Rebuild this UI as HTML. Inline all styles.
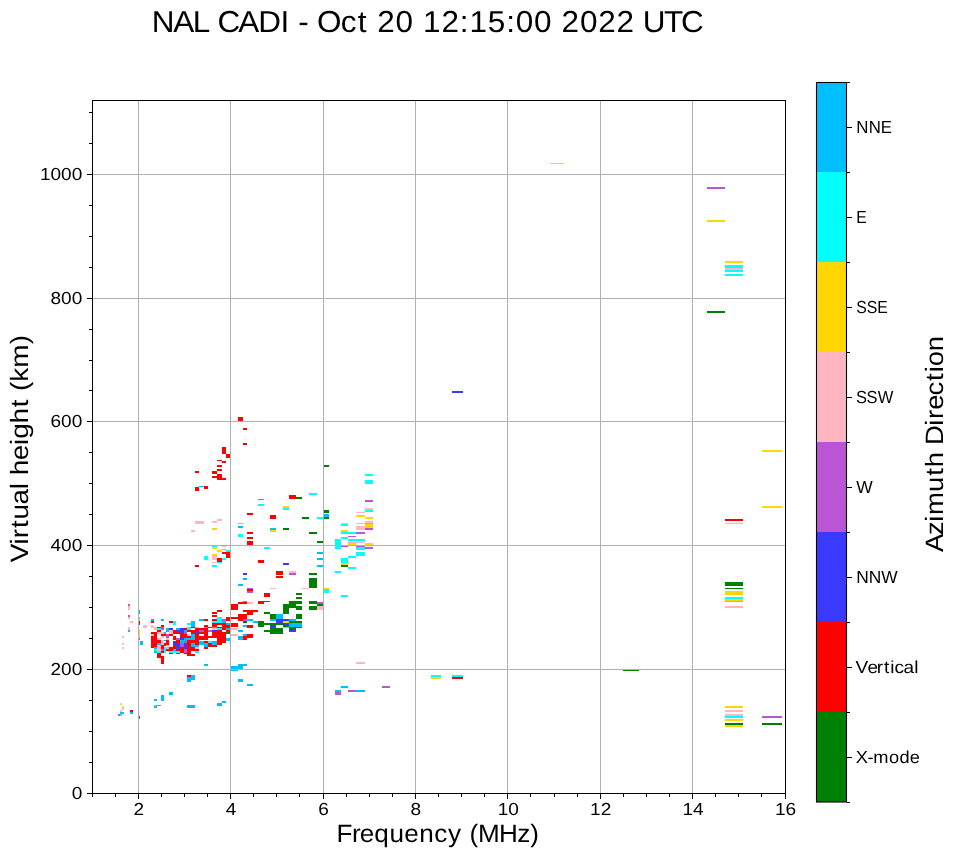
<!DOCTYPE html>
<html><head><meta charset="utf-8"><style>html,body{margin:0;padding:0;background:#fff;width:958px;height:857px;overflow:hidden}svg{display:block;will-change:transform;text-rendering:geometricPrecision}text{font-family:"Liberation Sans",sans-serif;fill:#000}</style></head>
<body>
<svg width="958" height="857" viewBox="0 0 958 857">
<rect x="0" y="0" width="958" height="857" fill="#fff"/>
<g shape-rendering="crispEdges">
<rect x="707" y="187" width="18" height="2" fill="#ba55d3"/>
<rect x="707" y="220" width="18" height="2" fill="#ffd700"/>
<rect x="707" y="311" width="18" height="2" fill="#008000"/>
<rect x="725" y="261" width="18" height="2" fill="#ffd700"/>
<rect x="725" y="265" width="18" height="3" fill="#00ffff"/>
<rect x="725" y="268" width="18" height="2" fill="#ffb6c1"/>
<rect x="725" y="270" width="18" height="2" fill="#00ffff"/>
<rect x="725" y="274" width="18" height="2" fill="#00ffff"/>
<rect x="762" y="450" width="20" height="2" fill="#ffd700"/>
<rect x="762" y="506" width="20" height="2" fill="#ffd700"/>
<rect x="725" y="519" width="18" height="2" fill="#ff0000"/>
<rect x="725" y="523" width="18" height="1" fill="#ffd700"/>
<rect x="725" y="582" width="18" height="4" fill="#008000"/>
<rect x="725" y="588" width="18" height="1" fill="#008000"/>
<rect x="725" y="591" width="18" height="4" fill="#ffd700"/>
<rect x="725" y="597" width="18" height="2" fill="#00ffff"/>
<rect x="725" y="599" width="18" height="2" fill="#ffd700"/>
<rect x="725" y="601" width="18" height="1" fill="#00ffff"/>
<rect x="725" y="606" width="18" height="2" fill="#ffb6c1"/>
<rect x="725" y="706" width="18" height="2" fill="#ffd700"/>
<rect x="725" y="710" width="18" height="2" fill="#ffb6c1"/>
<rect x="725" y="714" width="18" height="2" fill="#ffb6c1"/>
<rect x="725" y="716" width="18" height="2" fill="#00ffff"/>
<rect x="725" y="719" width="18" height="2" fill="#ffd700"/>
<rect x="725" y="723" width="18" height="2" fill="#008000"/>
<rect x="725" y="725" width="18" height="2" fill="#ffd700"/>
<rect x="762" y="716" width="20" height="2" fill="#ba55d3"/>
<rect x="762" y="723" width="20" height="2" fill="#008000"/>
<rect x="623" y="670" width="16" height="1" fill="#008000"/>
<rect x="431" y="675" width="10" height="2" fill="#00ffff"/>
<rect x="431" y="677" width="10" height="2" fill="#ffd700"/>
<rect x="452" y="675" width="11" height="2" fill="#00ffff"/>
<rect x="452" y="677" width="11" height="2" fill="#ff0000"/>
<rect x="452" y="391" width="11" height="2" fill="#3a3aff"/>
<rect x="550" y="163" width="14" height="1" fill="#ffd700"/>
<rect x="238" y="417" width="5" height="4" fill="#ff0000"/>
<rect x="243" y="428" width="4" height="2" fill="#ff0000"/>
<rect x="243" y="443" width="4" height="2" fill="#ff0000"/>
<rect x="222" y="447" width="4" height="7" fill="#ff0000"/>
<rect x="226" y="454" width="4" height="4" fill="#ff0000"/>
<rect x="217" y="460" width="5" height="1" fill="#ff0000"/>
<rect x="222" y="461" width="4" height="2" fill="#ff0000"/>
<rect x="217" y="465" width="5" height="2" fill="#ff0000"/>
<rect x="217" y="469" width="5" height="2" fill="#ff0000"/>
<rect x="195" y="471" width="4" height="2" fill="#ff0000"/>
<rect x="212" y="471" width="5" height="3" fill="#ff0000"/>
<rect x="217" y="474" width="5" height="6" fill="#ff0000"/>
<rect x="212" y="476" width="5" height="2" fill="#ff0000"/>
<rect x="222" y="478" width="4" height="2" fill="#ff0000"/>
<rect x="199" y="486" width="5" height="1" fill="#00bfff"/>
<rect x="204" y="486" width="4" height="3" fill="#ff0000"/>
<rect x="195" y="487" width="4" height="4" fill="#ff0000"/>
<rect x="258" y="499" width="6" height="1" fill="#00bfff"/>
<rect x="258" y="504" width="6" height="2" fill="#00ffff"/>
<rect x="247" y="513" width="6" height="2" fill="#ff0000"/>
<rect x="270" y="515" width="6" height="4" fill="#ff0000"/>
<rect x="283" y="506" width="6" height="2" fill="#ffd700"/>
<rect x="283" y="508" width="6" height="2" fill="#00ffff"/>
<rect x="289" y="495" width="7" height="4" fill="#ff0000"/>
<rect x="296" y="497" width="6" height="2" fill="#008000"/>
<rect x="309" y="493" width="8" height="2" fill="#00ffff"/>
<rect x="323" y="465" width="6" height="2" fill="#008000"/>
<rect x="323" y="510" width="6" height="3" fill="#008000"/>
<rect x="365" y="474" width="8" height="2" fill="#00ffff"/>
<rect x="365" y="480" width="8" height="4" fill="#00ffff"/>
<rect x="365" y="500" width="8" height="2" fill="#ba55d3"/>
<rect x="365" y="508" width="8" height="2" fill="#ffb6c1"/>
<rect x="365" y="510" width="8" height="2" fill="#00ffff"/>
<rect x="356" y="512" width="9" height="1" fill="#ffb6c1"/>
<rect x="195" y="521" width="9" height="3" fill="#ffb6c1"/>
<rect x="191" y="530" width="4" height="2" fill="#ffb6c1"/>
<rect x="212" y="521" width="5" height="2" fill="#ffb6c1"/>
<rect x="217" y="519" width="5" height="2" fill="#ffb6c1"/>
<rect x="212" y="528" width="5" height="2" fill="#ffd700"/>
<rect x="212" y="545" width="5" height="2" fill="#00ffff"/>
<rect x="212" y="547" width="5" height="2" fill="#ffd700"/>
<rect x="222" y="546" width="4" height="1" fill="#ffb6c1"/>
<rect x="222" y="549" width="4" height="1" fill="#00ffff"/>
<rect x="226" y="550" width="4" height="2" fill="#00ffff"/>
<rect x="217" y="550" width="5" height="2" fill="#ffd700"/>
<rect x="222" y="552" width="4" height="2" fill="#ff0000"/>
<rect x="226" y="552" width="4" height="6" fill="#ff0000"/>
<rect x="212" y="554" width="5" height="2" fill="#ffd700"/>
<rect x="212" y="556" width="5" height="4" fill="#ffb6c1"/>
<rect x="204" y="556" width="4" height="4" fill="#00ffff"/>
<rect x="217" y="558" width="5" height="4" fill="#ff0000"/>
<rect x="222" y="558" width="4" height="2" fill="#00ffff"/>
<rect x="217" y="562" width="5" height="1" fill="#00ffff"/>
<rect x="212" y="562" width="5" height="1" fill="#ffb6c1"/>
<rect x="195" y="565" width="4" height="2" fill="#ff0000"/>
<rect x="212" y="565" width="5" height="2" fill="#00ffff"/>
<rect x="238" y="523" width="5" height="1" fill="#00ffff"/>
<rect x="238" y="526" width="5" height="2" fill="#00bfff"/>
<rect x="238" y="534" width="5" height="3" fill="#00ffff"/>
<rect x="247" y="532" width="6" height="2" fill="#ff0000"/>
<rect x="247" y="537" width="6" height="2" fill="#ff0000"/>
<rect x="247" y="541" width="6" height="4" fill="#ff0000"/>
<rect x="270" y="528" width="6" height="2" fill="#00bfff"/>
<rect x="270" y="530" width="6" height="2" fill="#ffd700"/>
<rect x="283" y="528" width="6" height="2" fill="#008000"/>
<rect x="264" y="547" width="6" height="2" fill="#00ffff"/>
<rect x="258" y="560" width="6" height="3" fill="#ff0000"/>
<rect x="283" y="563" width="6" height="2" fill="#3a3aff"/>
<rect x="302" y="517" width="7" height="2" fill="#008000"/>
<rect x="317" y="517" width="6" height="2" fill="#00ffff"/>
<rect x="323" y="514" width="6" height="3" fill="#00bfff"/>
<rect x="323" y="517" width="6" height="2" fill="#008000"/>
<rect x="309" y="532" width="8" height="2" fill="#008000"/>
<rect x="317" y="541" width="6" height="2" fill="#008000"/>
<rect x="335" y="539" width="6" height="10" fill="#00ffff"/>
<rect x="317" y="552" width="6" height="2" fill="#00bfff"/>
<rect x="317" y="558" width="6" height="2" fill="#00bfff"/>
<rect x="317" y="565" width="6" height="2" fill="#00bfff"/>
<rect x="335" y="571" width="6" height="2" fill="#00ffff"/>
<rect x="289" y="571" width="7" height="2" fill="#ffb6c1"/>
<rect x="356" y="515" width="9" height="2" fill="#ffd700"/>
<rect x="365" y="517" width="8" height="2" fill="#ffd700"/>
<rect x="365" y="521" width="8" height="2" fill="#ffb6c1"/>
<rect x="365" y="523" width="8" height="1" fill="#00ffff"/>
<rect x="365" y="524" width="8" height="4" fill="#ffd700"/>
<rect x="365" y="528" width="8" height="2" fill="#ba55d3"/>
<rect x="356" y="523" width="9" height="1" fill="#ffd700"/>
<rect x="356" y="526" width="9" height="4" fill="#ffb6c1"/>
<rect x="341" y="523" width="7" height="1" fill="#ffb6c1"/>
<rect x="341" y="524" width="7" height="2" fill="#00ffff"/>
<rect x="341" y="530" width="7" height="2" fill="#ffd700"/>
<rect x="341" y="532" width="15" height="2" fill="#00ffff"/>
<rect x="356" y="532" width="9" height="2" fill="#ba55d3"/>
<rect x="348" y="536" width="8" height="1" fill="#ba55d3"/>
<rect x="341" y="537" width="7" height="2" fill="#00ffff"/>
<rect x="348" y="539" width="17" height="2" fill="#00ffff"/>
<rect x="348" y="541" width="17" height="2" fill="#ffb6c1"/>
<rect x="348" y="543" width="8" height="2" fill="#ffd700"/>
<rect x="365" y="543" width="8" height="2" fill="#ffd700"/>
<rect x="341" y="546" width="7" height="1" fill="#ba55d3"/>
<rect x="356" y="546" width="9" height="1" fill="#ba55d3"/>
<rect x="356" y="547" width="9" height="3" fill="#00ffff"/>
<rect x="365" y="547" width="8" height="2" fill="#ba55d3"/>
<rect x="356" y="552" width="9" height="4" fill="#00ffff"/>
<rect x="348" y="556" width="8" height="2" fill="#00ffff"/>
<rect x="341" y="558" width="7" height="5" fill="#00ffff"/>
<rect x="341" y="563" width="7" height="2" fill="#ffd700"/>
<rect x="341" y="565" width="7" height="2" fill="#008000"/>
<rect x="348" y="567" width="8" height="2" fill="#00ffff"/>
<rect x="289" y="573" width="7" height="2" fill="#ba55d3"/>
<rect x="309" y="573" width="8" height="2" fill="#008000"/>
<rect x="309" y="578" width="8" height="10" fill="#008000"/>
<rect x="302" y="588" width="7" height="1" fill="#ffb6c1"/>
<rect x="323" y="588" width="6" height="1" fill="#ffd700"/>
<rect x="323" y="589" width="6" height="4" fill="#00ffff"/>
<rect x="341" y="595" width="7" height="2" fill="#00ffff"/>
<rect x="296" y="593" width="6" height="2" fill="#008000"/>
<rect x="296" y="597" width="6" height="2" fill="#008000"/>
<rect x="289" y="601" width="13" height="3" fill="#008000"/>
<rect x="283" y="604" width="6" height="10" fill="#008000"/>
<rect x="289" y="601" width="7" height="7" fill="#008000"/>
<rect x="296" y="606" width="6" height="4" fill="#008000"/>
<rect x="309" y="601" width="8" height="3" fill="#008000"/>
<rect x="317" y="602" width="6" height="2" fill="#ba55d3"/>
<rect x="317" y="604" width="6" height="2" fill="#008000"/>
<rect x="309" y="606" width="8" height="4" fill="#008000"/>
<rect x="317" y="606" width="6" height="4" fill="#ffb6c1"/>
<rect x="296" y="614" width="6" height="5" fill="#008000"/>
<rect x="283" y="619" width="6" height="2" fill="#3a3aff"/>
<rect x="289" y="619" width="7" height="2" fill="#00bfff"/>
<rect x="283" y="621" width="6" height="2" fill="#ffd700"/>
<rect x="289" y="621" width="13" height="2" fill="#008000"/>
<rect x="243" y="573" width="4" height="2" fill="#3a3aff"/>
<rect x="243" y="578" width="4" height="2" fill="#00bfff"/>
<rect x="238" y="584" width="5" height="2" fill="#00bfff"/>
<rect x="276" y="571" width="7" height="4" fill="#ff0000"/>
<rect x="276" y="576" width="7" height="2" fill="#ff0000"/>
<rect x="247" y="588" width="6" height="1" fill="#ba55d3"/>
<rect x="247" y="589" width="6" height="2" fill="#ff0000"/>
<rect x="247" y="591" width="6" height="2" fill="#ba55d3"/>
<rect x="270" y="588" width="6" height="1" fill="#ffb6c1"/>
<rect x="264" y="593" width="6" height="4" fill="#ff0000"/>
<rect x="243" y="601" width="4" height="1" fill="#00bfff"/>
<rect x="238" y="602" width="9" height="2" fill="#ff0000"/>
<rect x="247" y="602" width="6" height="2" fill="#ffb6c1"/>
<rect x="258" y="601" width="6" height="3" fill="#ff0000"/>
<rect x="264" y="601" width="6" height="1" fill="#ff0000"/>
<rect x="243" y="610" width="15" height="2" fill="#ff0000"/>
<rect x="247" y="612" width="6" height="3" fill="#ff0000"/>
<rect x="264" y="612" width="6" height="2" fill="#008000"/>
<rect x="238" y="614" width="9" height="7" fill="#ff0000"/>
<rect x="243" y="619" width="4" height="2" fill="#ba55d3"/>
<rect x="247" y="619" width="6" height="2" fill="#00bfff"/>
<rect x="243" y="621" width="4" height="2" fill="#008000"/>
<rect x="253" y="621" width="5" height="2" fill="#00bfff"/>
<rect x="270" y="614" width="6" height="5" fill="#008000"/>
<rect x="276" y="614" width="7" height="5" fill="#00bfff"/>
<rect x="270" y="619" width="6" height="2" fill="#00bfff"/>
<rect x="276" y="619" width="7" height="4" fill="#3a3aff"/>
<rect x="258" y="621" width="6" height="6" fill="#008000"/>
<rect x="264" y="623" width="19" height="2" fill="#008000"/>
<rect x="283" y="623" width="6" height="2" fill="#3a3aff"/>
<rect x="283" y="625" width="6" height="2" fill="#008000"/>
<rect x="283" y="627" width="6" height="1" fill="#00ffff"/>
<rect x="289" y="623" width="13" height="4" fill="#00bfff"/>
<rect x="289" y="627" width="13" height="1" fill="#008000"/>
<rect x="289" y="628" width="7" height="2" fill="#008000"/>
<rect x="289" y="630" width="7" height="2" fill="#3a3aff"/>
<rect x="270" y="625" width="6" height="3" fill="#3a3aff"/>
<rect x="270" y="628" width="13" height="6" fill="#008000"/>
<rect x="264" y="630" width="6" height="2" fill="#008000"/>
<rect x="243" y="625" width="4" height="2" fill="#00bfff"/>
<rect x="247" y="625" width="6" height="3" fill="#ff0000"/>
<rect x="238" y="630" width="5" height="2" fill="#00bfff"/>
<rect x="243" y="634" width="4" height="2" fill="#00bfff"/>
<rect x="247" y="634" width="6" height="4" fill="#ff0000"/>
<rect x="243" y="636" width="4" height="4" fill="#ff0000"/>
<rect x="238" y="636" width="5" height="4" fill="#00bfff"/>
<rect x="238" y="664" width="9" height="2" fill="#00bfff"/>
<rect x="238" y="666" width="5" height="3" fill="#00bfff"/>
<rect x="230" y="604" width="8" height="6" fill="#ff0000"/>
<rect x="212" y="612" width="5" height="2" fill="#ff0000"/>
<rect x="217" y="610" width="5" height="2" fill="#ff0000"/>
<rect x="212" y="615" width="5" height="2" fill="#ff0000"/>
<rect x="230" y="617" width="8" height="2" fill="#ff0000"/>
<rect x="217" y="617" width="5" height="6" fill="#00ffff"/>
<rect x="212" y="621" width="5" height="2" fill="#00ffff"/>
<rect x="222" y="621" width="4" height="2" fill="#00bfff"/>
<rect x="226" y="617" width="4" height="4" fill="#ff0000"/>
<rect x="222" y="619" width="4" height="2" fill="#ba55d3"/>
<rect x="199" y="619" width="5" height="2" fill="#00bfff"/>
<rect x="204" y="619" width="4" height="2" fill="#ff0000"/>
<rect x="212" y="619" width="5" height="2" fill="#ff0000"/>
<rect x="226" y="623" width="4" height="2" fill="#00bfff"/>
<rect x="230" y="623" width="8" height="4" fill="#ff0000"/>
<rect x="212" y="623" width="14" height="2" fill="#ff0000"/>
<rect x="212" y="625" width="5" height="2" fill="#ff0000"/>
<rect x="222" y="625" width="4" height="2" fill="#ff0000"/>
<rect x="204" y="625" width="4" height="2" fill="#ff0000"/>
<rect x="226" y="625" width="4" height="3" fill="#ff0000"/>
<rect x="204" y="627" width="4" height="1" fill="#00bfff"/>
<rect x="208" y="627" width="4" height="1" fill="#3a3aff"/>
<rect x="212" y="627" width="5" height="1" fill="#00bfff"/>
<rect x="217" y="627" width="5" height="1" fill="#ff0000"/>
<rect x="222" y="627" width="4" height="1" fill="#3a3aff"/>
<rect x="195" y="627" width="4" height="1" fill="#ffb6c1"/>
<rect x="195" y="628" width="13" height="2" fill="#ff0000"/>
<rect x="212" y="628" width="5" height="2" fill="#ffb6c1"/>
<rect x="217" y="628" width="5" height="2" fill="#00ffff"/>
<rect x="222" y="628" width="4" height="2" fill="#ff0000"/>
<rect x="226" y="628" width="4" height="2" fill="#00bfff"/>
<rect x="230" y="628" width="8" height="2" fill="#ffb6c1"/>
<rect x="195" y="630" width="4" height="2" fill="#ff0000"/>
<rect x="199" y="630" width="5" height="2" fill="#ba55d3"/>
<rect x="204" y="630" width="4" height="2" fill="#ff0000"/>
<rect x="208" y="630" width="4" height="2" fill="#ba55d3"/>
<rect x="212" y="630" width="5" height="2" fill="#3a3aff"/>
<rect x="217" y="630" width="5" height="2" fill="#ff0000"/>
<rect x="226" y="630" width="4" height="2" fill="#ff0000"/>
<rect x="195" y="632" width="4" height="2" fill="#3a3aff"/>
<rect x="199" y="632" width="9" height="2" fill="#ff0000"/>
<rect x="212" y="632" width="14" height="2" fill="#ff0000"/>
<rect x="226" y="632" width="4" height="2" fill="#008000"/>
<rect x="195" y="634" width="4" height="2" fill="#ff0000"/>
<rect x="204" y="634" width="4" height="2" fill="#ff0000"/>
<rect x="212" y="634" width="14" height="2" fill="#ff0000"/>
<rect x="230" y="634" width="8" height="2" fill="#ffb6c1"/>
<rect x="195" y="636" width="31" height="2" fill="#ff0000"/>
<rect x="195" y="638" width="13" height="2" fill="#ff0000"/>
<rect x="217" y="638" width="9" height="2" fill="#ff0000"/>
<rect x="226" y="638" width="4" height="3" fill="#00bfff"/>
<rect x="195" y="640" width="4" height="3" fill="#ff0000"/>
<rect x="199" y="641" width="5" height="4" fill="#00bfff"/>
<rect x="204" y="641" width="4" height="2" fill="#ff0000"/>
<rect x="208" y="641" width="4" height="2" fill="#00ffff"/>
<rect x="212" y="641" width="5" height="4" fill="#00bfff"/>
<rect x="217" y="640" width="5" height="5" fill="#ff0000"/>
<rect x="222" y="640" width="4" height="3" fill="#ff0000"/>
<rect x="195" y="643" width="4" height="2" fill="#ff0000"/>
<rect x="204" y="643" width="4" height="4" fill="#00bfff"/>
<rect x="208" y="643" width="4" height="4" fill="#ff0000"/>
<rect x="212" y="645" width="5" height="2" fill="#ff0000"/>
<rect x="195" y="645" width="4" height="2" fill="#00bfff"/>
<rect x="195" y="647" width="4" height="2" fill="#ffb6c1"/>
<rect x="204" y="647" width="4" height="2" fill="#ff0000"/>
<rect x="195" y="649" width="4" height="2" fill="#ff0000"/>
<rect x="195" y="651" width="4" height="2" fill="#00ffff"/>
<rect x="151" y="619" width="3" height="2" fill="#00bfff"/>
<rect x="161" y="619" width="3" height="2" fill="#00bfff"/>
<rect x="151" y="621" width="3" height="2" fill="#ff0000"/>
<rect x="169" y="621" width="4" height="2" fill="#ff0000"/>
<rect x="173" y="621" width="3" height="4" fill="#00ffff"/>
<rect x="191" y="621" width="4" height="6" fill="#00bfff"/>
<rect x="187" y="623" width="4" height="2" fill="#00ffff"/>
<rect x="145" y="625" width="2" height="3" fill="#ffb6c1"/>
<rect x="151" y="625" width="3" height="3" fill="#ffb6c1"/>
<rect x="161" y="625" width="3" height="2" fill="#ff0000"/>
<rect x="154" y="627" width="3" height="3" fill="#ffb6c1"/>
<rect x="157" y="627" width="4" height="1" fill="#ff0000"/>
<rect x="161" y="627" width="3" height="1" fill="#00bfff"/>
<rect x="157" y="628" width="4" height="2" fill="#00ffff"/>
<rect x="161" y="628" width="3" height="2" fill="#ba55d3"/>
<rect x="166" y="628" width="3" height="4" fill="#00bfff"/>
<rect x="169" y="628" width="4" height="2" fill="#3a3aff"/>
<rect x="176" y="628" width="4" height="2" fill="#00bfff"/>
<rect x="180" y="628" width="4" height="6" fill="#3a3aff"/>
<rect x="184" y="628" width="3" height="2" fill="#ff0000"/>
<rect x="187" y="627" width="4" height="3" fill="#00ffff"/>
<rect x="191" y="627" width="4" height="1" fill="#ff0000"/>
<rect x="157" y="630" width="4" height="2" fill="#ff0000"/>
<rect x="169" y="630" width="4" height="4" fill="#ffb6c1"/>
<rect x="173" y="630" width="3" height="4" fill="#ff0000"/>
<rect x="176" y="630" width="4" height="2" fill="#3a3aff"/>
<rect x="184" y="630" width="3" height="2" fill="#00bfff"/>
<rect x="187" y="630" width="8" height="2" fill="#ff0000"/>
<rect x="191" y="632" width="4" height="2" fill="#ff0000"/>
<rect x="151" y="632" width="6" height="4" fill="#ff0000"/>
<rect x="157" y="632" width="7" height="2" fill="#ffb6c1"/>
<rect x="164" y="632" width="2" height="2" fill="#00bfff"/>
<rect x="176" y="632" width="4" height="2" fill="#ff0000"/>
<rect x="184" y="632" width="3" height="2" fill="#ba55d3"/>
<rect x="151" y="634" width="3" height="2" fill="#ffb6c1"/>
<rect x="154" y="634" width="3" height="4" fill="#ff0000"/>
<rect x="161" y="634" width="5" height="2" fill="#ff0000"/>
<rect x="166" y="634" width="3" height="4" fill="#ba55d3"/>
<rect x="169" y="634" width="4" height="2" fill="#ff0000"/>
<rect x="180" y="634" width="7" height="4" fill="#ff0000"/>
<rect x="187" y="634" width="4" height="2" fill="#ffb6c1"/>
<rect x="191" y="634" width="4" height="6" fill="#00bfff"/>
<rect x="151" y="636" width="6" height="12" fill="#ff0000"/>
<rect x="161" y="636" width="3" height="2" fill="#ffb6c1"/>
<rect x="173" y="636" width="3" height="4" fill="#ff0000"/>
<rect x="187" y="636" width="4" height="2" fill="#ff0000"/>
<rect x="157" y="638" width="4" height="2" fill="#ffb6c1"/>
<rect x="166" y="638" width="3" height="2" fill="#ffb6c1"/>
<rect x="176" y="638" width="4" height="2" fill="#ba55d3"/>
<rect x="180" y="638" width="4" height="2" fill="#3a3aff"/>
<rect x="184" y="638" width="3" height="3" fill="#00bfff"/>
<rect x="187" y="638" width="4" height="2" fill="#00bfff"/>
<rect x="157" y="640" width="4" height="3" fill="#ff0000"/>
<rect x="161" y="640" width="3" height="5" fill="#ffb6c1"/>
<rect x="164" y="640" width="2" height="1" fill="#00bfff"/>
<rect x="166" y="640" width="3" height="5" fill="#ff0000"/>
<rect x="173" y="641" width="3" height="4" fill="#3a3aff"/>
<rect x="176" y="640" width="4" height="3" fill="#ff0000"/>
<rect x="180" y="640" width="4" height="3" fill="#00bfff"/>
<rect x="184" y="641" width="3" height="2" fill="#ba55d3"/>
<rect x="187" y="640" width="8" height="3" fill="#ff0000"/>
<rect x="191" y="643" width="4" height="4" fill="#00bfff"/>
<rect x="157" y="643" width="4" height="2" fill="#00bfff"/>
<rect x="164" y="643" width="2" height="3" fill="#ff0000"/>
<rect x="176" y="643" width="4" height="6" fill="#3a3aff"/>
<rect x="180" y="643" width="4" height="4" fill="#ba55d3"/>
<rect x="184" y="643" width="3" height="6" fill="#3a3aff"/>
<rect x="187" y="643" width="4" height="12" fill="#ff0000"/>
<rect x="157" y="645" width="4" height="6" fill="#ffb6c1"/>
<rect x="161" y="645" width="3" height="4" fill="#ff0000"/>
<rect x="166" y="645" width="3" height="4" fill="#ffb6c1"/>
<rect x="173" y="645" width="3" height="4" fill="#ff0000"/>
<rect x="169" y="647" width="4" height="4" fill="#ff0000"/>
<rect x="154" y="647" width="3" height="2" fill="#00bfff"/>
<rect x="164" y="647" width="2" height="6" fill="#00ffff"/>
<rect x="180" y="647" width="4" height="6" fill="#ff0000"/>
<rect x="154" y="649" width="3" height="2" fill="#00ffff"/>
<rect x="161" y="649" width="3" height="2" fill="#ba55d3"/>
<rect x="166" y="649" width="7" height="2" fill="#ff0000"/>
<rect x="173" y="649" width="3" height="2" fill="#00bfff"/>
<rect x="176" y="649" width="4" height="2" fill="#ff0000"/>
<rect x="184" y="649" width="3" height="4" fill="#ba55d3"/>
<rect x="191" y="647" width="4" height="4" fill="#ff0000"/>
<rect x="154" y="651" width="3" height="2" fill="#00bfff"/>
<rect x="157" y="651" width="4" height="2" fill="#00ffff"/>
<rect x="161" y="651" width="3" height="2" fill="#ff0000"/>
<rect x="169" y="651" width="11" height="2" fill="#00ffff"/>
<rect x="157" y="653" width="4" height="2" fill="#ff0000"/>
<rect x="169" y="653" width="4" height="1" fill="#ff0000"/>
<rect x="176" y="653" width="4" height="1" fill="#ff0000"/>
<rect x="184" y="653" width="3" height="1" fill="#ff0000"/>
<rect x="187" y="653" width="4" height="1" fill="#3a3aff"/>
<rect x="187" y="654" width="8" height="1" fill="#ff0000"/>
<rect x="128" y="604" width="2" height="2" fill="#ba55d3"/>
<rect x="128" y="606" width="2" height="4" fill="#ffb6c1"/>
<rect x="128" y="615" width="2" height="2" fill="#ba55d3"/>
<rect x="128" y="617" width="2" height="2" fill="#ffb6c1"/>
<rect x="130" y="621" width="3" height="2" fill="#ffb6c1"/>
<rect x="139" y="610" width="1" height="4" fill="#00bfff"/>
<rect x="139" y="617" width="1" height="2" fill="#00ffff"/>
<rect x="139" y="619" width="1" height="2" fill="#ffd700"/>
<rect x="139" y="621" width="1" height="2" fill="#ff0000"/>
<rect x="139" y="623" width="1" height="2" fill="#3a3aff"/>
<rect x="143" y="625" width="4" height="3" fill="#ffb6c1"/>
<rect x="128" y="627" width="2" height="3" fill="#ffb6c1"/>
<rect x="128" y="630" width="2" height="2" fill="#00bfff"/>
<rect x="122" y="636" width="2" height="2" fill="#ffb6c1"/>
<rect x="122" y="643" width="2" height="2" fill="#ffb6c1"/>
<rect x="122" y="647" width="2" height="2" fill="#ffb6c1"/>
<rect x="139" y="630" width="1" height="6" fill="#ffd700"/>
<rect x="139" y="636" width="1" height="2" fill="#ffb6c1"/>
<rect x="139" y="638" width="1" height="2" fill="#ba55d3"/>
<rect x="140" y="641" width="3" height="4" fill="#00bfff"/>
<rect x="157" y="653" width="4" height="5" fill="#ff0000"/>
<rect x="161" y="656" width="3" height="8" fill="#ff0000"/>
<rect x="187" y="654" width="8" height="2" fill="#ff0000"/>
<rect x="187" y="675" width="4" height="2" fill="#ff0000"/>
<rect x="187" y="677" width="4" height="5" fill="#00bfff"/>
<rect x="191" y="675" width="4" height="5" fill="#00bfff"/>
<rect x="169" y="692" width="4" height="3" fill="#00bfff"/>
<rect x="120" y="703" width="2" height="2" fill="#ffb6c1"/>
<rect x="122" y="706" width="2" height="2" fill="#ffd700"/>
<rect x="122" y="708" width="2" height="2" fill="#ffb6c1"/>
<rect x="120" y="710" width="2" height="2" fill="#ffb6c1"/>
<rect x="120" y="712" width="4" height="2" fill="#00bfff"/>
<rect x="120" y="714" width="2" height="2" fill="#00ffff"/>
<rect x="130" y="710" width="3" height="2" fill="#ff0000"/>
<rect x="130" y="712" width="3" height="2" fill="#00bfff"/>
<rect x="139" y="716" width="1" height="2" fill="#ff0000"/>
<rect x="139" y="718" width="1" height="1" fill="#00bfff"/>
<rect x="154" y="699" width="3" height="2" fill="#00bfff"/>
<rect x="161" y="695" width="3" height="6" fill="#00bfff"/>
<rect x="154" y="705" width="3" height="1" fill="#00ffff"/>
<rect x="154" y="706" width="3" height="2" fill="#00bfff"/>
<rect x="157" y="705" width="4" height="1" fill="#00bfff"/>
<rect x="118" y="714" width="2" height="2" fill="#ba55d3"/>
<rect x="204" y="664" width="4" height="2" fill="#00bfff"/>
<rect x="231" y="666" width="12" height="3" fill="#00bfff"/>
<rect x="231" y="670" width="7" height="1" fill="#00bfff"/>
<rect x="238" y="679" width="5" height="3" fill="#00bfff"/>
<rect x="247" y="684" width="6" height="2" fill="#00bfff"/>
<rect x="222" y="701" width="4" height="2" fill="#00bfff"/>
<rect x="217" y="703" width="5" height="3" fill="#00bfff"/>
<rect x="187" y="705" width="8" height="3" fill="#00bfff"/>
<rect x="356" y="662" width="9" height="2" fill="#ffb6c1"/>
<rect x="341" y="686" width="7" height="2" fill="#00bfff"/>
<rect x="335" y="690" width="6" height="2" fill="#00bfff"/>
<rect x="335" y="692" width="6" height="3" fill="#ba55d3"/>
<rect x="348" y="690" width="8" height="2" fill="#ba55d3"/>
<rect x="356" y="690" width="9" height="2" fill="#00bfff"/>
<rect x="382" y="686" width="8" height="2" fill="#ba55d3"/>
</g>
<g fill="#b0b0b0" shape-rendering="crispEdges">
<rect x="138" y="100" width="1" height="693"/>
<rect x="230" y="100" width="1" height="693"/>
<rect x="323" y="100" width="1" height="693"/>
<rect x="415" y="100" width="1" height="693"/>
<rect x="507" y="100" width="1" height="693"/>
<rect x="600" y="100" width="1" height="693"/>
<rect x="692" y="100" width="1" height="693"/>
<rect x="92" y="669" width="693" height="1"/>
<rect x="92" y="545" width="693" height="1"/>
<rect x="92" y="421" width="693" height="1"/>
<rect x="92" y="298" width="693" height="1"/>
<rect x="92" y="174" width="693" height="1"/>
</g>
<g fill="#000" shape-rendering="crispEdges">
<rect x="92" y="100" width="694" height="1"/>
<rect x="92" y="793" width="694" height="1"/>
<rect x="92" y="100" width="1" height="694"/>
<rect x="785" y="100" width="1" height="694"/>
<rect x="92" y="794" width="1" height="3"/>
<rect x="115" y="794" width="1" height="3"/>
<rect x="138" y="794" width="1" height="5"/>
<rect x="161" y="794" width="1" height="3"/>
<rect x="184" y="794" width="1" height="3"/>
<rect x="207" y="794" width="1" height="3"/>
<rect x="230" y="794" width="1" height="5"/>
<rect x="253" y="794" width="1" height="3"/>
<rect x="276" y="794" width="1" height="3"/>
<rect x="299" y="794" width="1" height="3"/>
<rect x="323" y="794" width="1" height="5"/>
<rect x="346" y="794" width="1" height="3"/>
<rect x="369" y="794" width="1" height="3"/>
<rect x="392" y="794" width="1" height="3"/>
<rect x="415" y="794" width="1" height="5"/>
<rect x="438" y="794" width="1" height="3"/>
<rect x="461" y="794" width="1" height="3"/>
<rect x="484" y="794" width="1" height="3"/>
<rect x="507" y="794" width="1" height="5"/>
<rect x="530" y="794" width="1" height="3"/>
<rect x="554" y="794" width="1" height="3"/>
<rect x="577" y="794" width="1" height="3"/>
<rect x="600" y="794" width="1" height="5"/>
<rect x="623" y="794" width="1" height="3"/>
<rect x="646" y="794" width="1" height="3"/>
<rect x="669" y="794" width="1" height="3"/>
<rect x="692" y="794" width="1" height="5"/>
<rect x="715" y="794" width="1" height="3"/>
<rect x="738" y="794" width="1" height="3"/>
<rect x="761" y="794" width="1" height="3"/>
<rect x="785" y="794" width="1" height="5"/>
<rect x="87" y="793" width="5" height="1"/>
<rect x="89" y="762" width="3" height="1"/>
<rect x="89" y="731" width="3" height="1"/>
<rect x="89" y="700" width="3" height="1"/>
<rect x="87" y="669" width="5" height="1"/>
<rect x="89" y="638" width="3" height="1"/>
<rect x="89" y="607" width="3" height="1"/>
<rect x="89" y="576" width="3" height="1"/>
<rect x="87" y="545" width="5" height="1"/>
<rect x="89" y="514" width="3" height="1"/>
<rect x="89" y="483" width="3" height="1"/>
<rect x="89" y="452" width="3" height="1"/>
<rect x="87" y="421" width="5" height="1"/>
<rect x="89" y="390" width="3" height="1"/>
<rect x="89" y="360" width="3" height="1"/>
<rect x="89" y="329" width="3" height="1"/>
<rect x="87" y="298" width="5" height="1"/>
<rect x="89" y="267" width="3" height="1"/>
<rect x="89" y="236" width="3" height="1"/>
<rect x="89" y="205" width="3" height="1"/>
<rect x="87" y="174" width="5" height="1"/>
<rect x="89" y="143" width="3" height="1"/>
<rect x="89" y="112" width="3" height="1"/>
</g>
<g fill="#000">
<text  font-size="17.4" transform="translate(133.40,815.10) scale(1.0960,1)" x="0.00" y="0">2</text>
<text  font-size="17.4" transform="translate(225.80,815.10) scale(1.0960,1)" x="0.00" y="0">4</text>
<text  font-size="17.4" transform="translate(318.20,815.10) scale(1.0960,1)" x="0.00" y="0">6</text>
<text  font-size="17.4" transform="translate(410.60,815.10) scale(1.0960,1)" x="0.00" y="0">8</text>
<text  font-size="17.4" transform="translate(497.69,815.10) scale(1.0960,1)" x="0.00 9.68" y="0">10</text>
<text  font-size="17.4" transform="translate(590.09,815.10) scale(1.0960,1)" x="0.00 9.68" y="0">12</text>
<text  font-size="17.4" transform="translate(682.49,815.10) scale(1.0960,1)" x="0.00 9.68" y="0">14</text>
<text  font-size="17.4" transform="translate(774.89,815.10) scale(1.0960,1)" x="0.00 9.68" y="0">16</text>
<text  font-size="17.4" transform="translate(71.69,798.50) scale(1.0960,1)" x="0.00" y="0">0</text>
<text  font-size="17.4" transform="translate(50.48,674.80) scale(1.0960,1)" x="0.00 9.68 19.35" y="0">200</text>
<text  font-size="17.4" transform="translate(50.48,551.10) scale(1.0960,1)" x="0.00 9.68 19.35" y="0">400</text>
<text  font-size="17.4" transform="translate(50.48,427.40) scale(1.0960,1)" x="0.00 9.68 19.35" y="0">600</text>
<text  font-size="17.4" transform="translate(50.48,303.70) scale(1.0960,1)" x="0.00 9.68 19.35" y="0">800</text>
<text  font-size="17.4" transform="translate(39.88,180.00) scale(1.0960,1)" x="0.00 9.68 19.35 29.03" y="0">1000</text>
</g>
<text  font-size="25.1" transform="translate(337.65,841.80) scale(1.0404,1)" x="-1.03 13.83 21.19 35.10 49.73 64.14 78.55 92.90 106.07 119.35 126.83 135.00 155.02 172.54 185.19" y="0">Frequency (MHz)</text>
<text  font-size="25.1" transform="translate(27.90,448.10) rotate(-90) translate(-113.09,0) scale(1.1131,1)" x="-1.00 14.96 20.52 29.87 37.44 50.88 64.67 70.39 77.16 90.63 104.45 110.09 123.77 138.32 145.98 152.92 161.27 173.84 194.82" y="0">Virtual height (km)</text>
<text  font-size="30.3" transform="translate(152.29,31.80) scale(1.0393,1)" x="-0.58 20.10 38.98 55.32 62.67 82.66 101.97 123.45 131.94 140.51 150.75 158.49 181.22 197.64 207.47 216.48 234.11 251.54 260.55 278.18 295.88 305.15 322.78 340.48 349.74 367.37 384.81 393.81 411.45 429.08 446.71 464.14 471.96 492.25 508.70" y="0">NAL CADI - Oct 20 12:15:00 2022 UTC</text>
<g shape-rendering="crispEdges">
<rect x="816" y="712" width="31" height="90" fill="#008000"/>
<rect x="816" y="622" width="31" height="90" fill="#ff0000"/>
<rect x="816" y="532" width="31" height="90" fill="#3a3aff"/>
<rect x="816" y="442" width="31" height="90" fill="#ba55d3"/>
<rect x="816" y="352" width="31" height="90" fill="#ffb6c1"/>
<rect x="816" y="262" width="31" height="90" fill="#ffd700"/>
<rect x="816" y="172" width="31" height="90" fill="#00ffff"/>
<rect x="816" y="82" width="31" height="90" fill="#00bfff"/>
</g>
<rect x="816.5" y="82.5" width="30" height="719.5" fill="none" stroke="#000" stroke-width="1.1"/>
<g fill="#000" shape-rendering="crispEdges">
<rect x="847" y="82" width="3" height="1"/>
<rect x="847" y="172" width="3" height="1"/>
<rect x="847" y="262" width="3" height="1"/>
<rect x="847" y="352" width="3" height="1"/>
<rect x="847" y="442" width="3" height="1"/>
<rect x="847" y="532" width="3" height="1"/>
<rect x="847" y="622" width="3" height="1"/>
<rect x="847" y="712" width="3" height="1"/>
<rect x="847" y="802" width="3" height="1"/>
<rect x="847" y="757" width="5" height="1"/>
<rect x="847" y="667" width="5" height="1"/>
<rect x="847" y="577" width="5" height="1"/>
<rect x="847" y="487" width="5" height="1"/>
<rect x="847" y="397" width="5" height="1"/>
<rect x="847" y="307" width="5" height="1"/>
<rect x="847" y="217" width="5" height="1"/>
<rect x="847" y="127" width="5" height="1"/>
</g>
<g fill="#000">
<text  font-size="17.4" transform="translate(856.20,762.53) scale(1.0485,1)" x="-0.36 10.86 16.33 31.35 41.26 51.20" y="0">X-mode</text>
<text  font-size="17.4" transform="translate(856.20,672.59) scale(1.0936,1)" x="-0.59 10.28 18.86 25.46 31.05 34.94 43.32 53.01" y="0">Vertical</text>
<text  font-size="17.4" transform="translate(856.20,582.66) scale(0.9968,1)" x="-0.03 12.48 25.08" y="0">NNW</text>
<text  font-size="17.4" transform="translate(856.20,492.72) scale(1.0036,1)" x="0.00" y="0">W</text>
<text  font-size="17.4" transform="translate(856.20,402.78) scale(0.9498,1)" x="-0.23 10.91 22.75" y="0">SSW</text>
<text  font-size="17.4" transform="translate(856.20,312.84) scale(0.9103,1)" x="0.01 11.63 23.23" y="0">SSE</text>
<text  font-size="17.4" transform="translate(856.20,222.91) scale(0.9075,1)" x="0.00" y="0">E</text>
<text  font-size="17.4" transform="translate(856.20,132.97) scale(0.9656,1)" x="0.17 13.09 25.48" y="0">NNE</text>
</g>
<text  font-size="25.1" transform="translate(942.80,443.50) rotate(-90) translate(-107.47,0) scale(1.0929,1)" x="-0.86 14.51 26.81 32.89 54.02 68.78 76.55 90.50 96.86 114.65 120.82 129.29 142.30 155.44 163.49 169.07 182.74" y="0">Azimuth Direction</text>
</svg>
</body></html>
